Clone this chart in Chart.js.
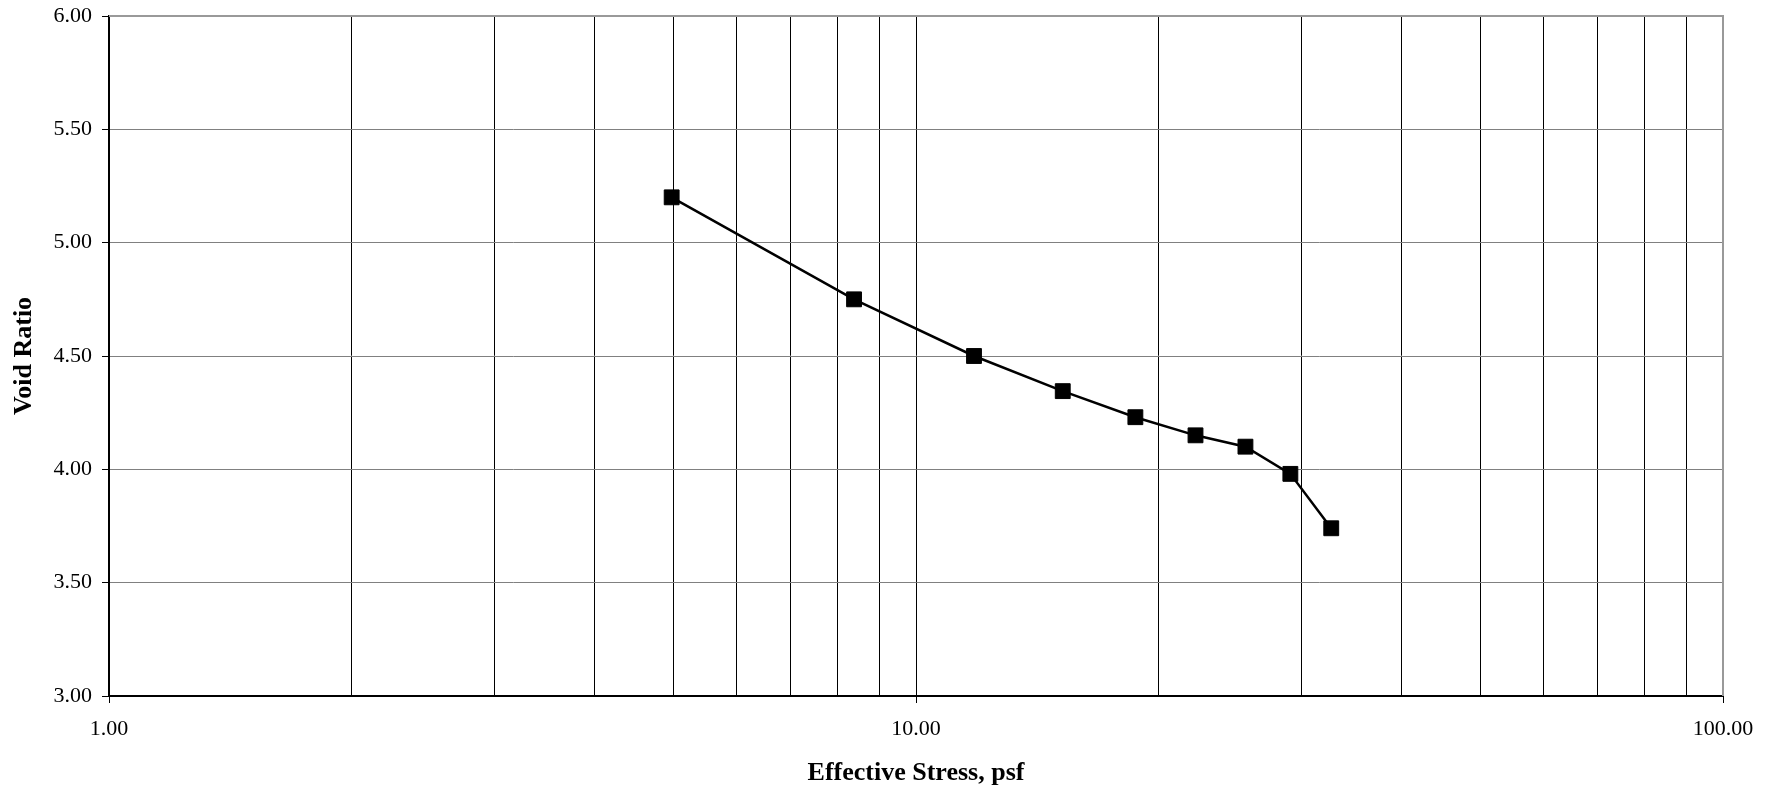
<!DOCTYPE html>
<html>
<head>
<meta charset="utf-8">
<title>Void Ratio vs Effective Stress</title>
<script src="https://cdn.jsdelivr.net/npm/chart.js@4.4.1/dist/chart.umd.min.js"></script>
<style>
  html, body { margin: 0; padding: 0; background: #fff; }
  canvas { display: block; }
</style>
</head>
<body>
<canvas id="chart" width="1778" height="793"></canvas>
<script>
// ── data ──
const stress = [4.98, 8.38, 11.8, 15.2, 18.7, 22.2, 25.6, 29.1, 32.7];
const voidRatio = [5.20, 4.75, 4.50, 4.345, 4.23, 4.15, 4.10, 3.98, 3.74];

// log axis grid: every 1..9 per decade, labels only on the decades
const xGridValues = [1, 2, 3, 4, 5, 6, 7, 8, 9, 10, 20, 30, 40, 50, 60, 70, 80, 90, 100];
const xLabelValues = [1, 10, 100];
const yTickValues = [3.0, 3.5, 4.0, 4.5, 5.0, 5.5, 6.0];

const serif = '"Liberation Serif", "Times New Roman", serif';

// gray frame on the top and right edge of the plot, like the spreadsheet chart
const frame = {
  id: 'frame',
  beforeDatasetsDraw(chart) {
    const { ctx, chartArea: a } = chart;
    ctx.save();
    ctx.strokeStyle = '#999';
    ctx.lineWidth = 2;
    ctx.beginPath();
    ctx.moveTo(a.left, a.top);
    ctx.lineTo(a.right, a.top);
    ctx.lineTo(a.right, a.bottom);
    ctx.stroke();
    ctx.restore();
  }
};

new Chart(document.getElementById('chart'), {
  type: 'line',
  data: {
    datasets: [{
      data: stress.map((x, i) => ({ x: x, y: voidRatio[i] })),
      borderColor: '#000',
      borderWidth: 2.5,
      backgroundColor: '#000',
      pointStyle: 'rect',
      pointRadius: 10.5,
      pointBorderWidth: 1,
      pointBorderColor: '#000',
      pointBackgroundColor: '#000',
      tension: 0,
      fill: false
    }]
  },
  options: {
    responsive: false,
    animation: false,
    layout: { padding: { top: 16, right: 55, left: 0, bottom: 0 } },
    plugins: {
      legend: { display: false },
      tooltip: { enabled: false }
    },
    scales: {
      x: {
        type: 'logarithmic',
        min: 1,
        max: 100,
        afterBuildTicks: (s) => { s.ticks = xGridValues.map(v => ({ value: v })); },
        afterFit: (s) => { s.height = 97; },
        grid: {
          color: '#000',
          lineWidth: 1,
          tickLength: 7,
          tickColor: (c) => (c.tick && xLabelValues.includes(c.tick.value)) ? '#000' : 'rgba(0,0,0,0)'
        },
        border: { color: '#000', width: 2 },
        ticks: {
          autoSkip: false,
          maxRotation: 0,
          padding: 13,
          color: '#000',
          font: { family: serif, size: 22 },
          callback: (v) => xLabelValues.includes(v) ? v.toFixed(2) : ''
        },
        title: {
          display: true,
          text: 'Effective Stress, psf',
          color: '#000',
          font: { family: serif, size: 26, weight: 'bold' },
          padding: { top: 0, bottom: 4 }
        }
      },
      y: {
        min: 3,
        max: 6,
        afterBuildTicks: (s) => { s.ticks = yTickValues.map(v => ({ value: v })); },
        afterFit: (s) => { s.width = 109; s.paddingTop = 0; s.paddingBottom = 0; },
        grid: {
          color: '#808080',
          lineWidth: 1,
          tickLength: 7,
          tickColor: '#000'
        },
        border: { color: '#000', width: 2 },
        ticks: {
          padding: 10,
          color: '#000',
          font: { family: serif, size: 22 },
          callback: (v) => v.toFixed(2)
        },
        title: {
          display: true,
          text: 'Void Ratio',
          color: '#000',
          font: { family: serif, size: 26, weight: 'bold' },
          padding: { top: 9, bottom: 0 }
        }
      }
    }
  },
  plugins: [frame]
});
</script>
</body>
</html>
